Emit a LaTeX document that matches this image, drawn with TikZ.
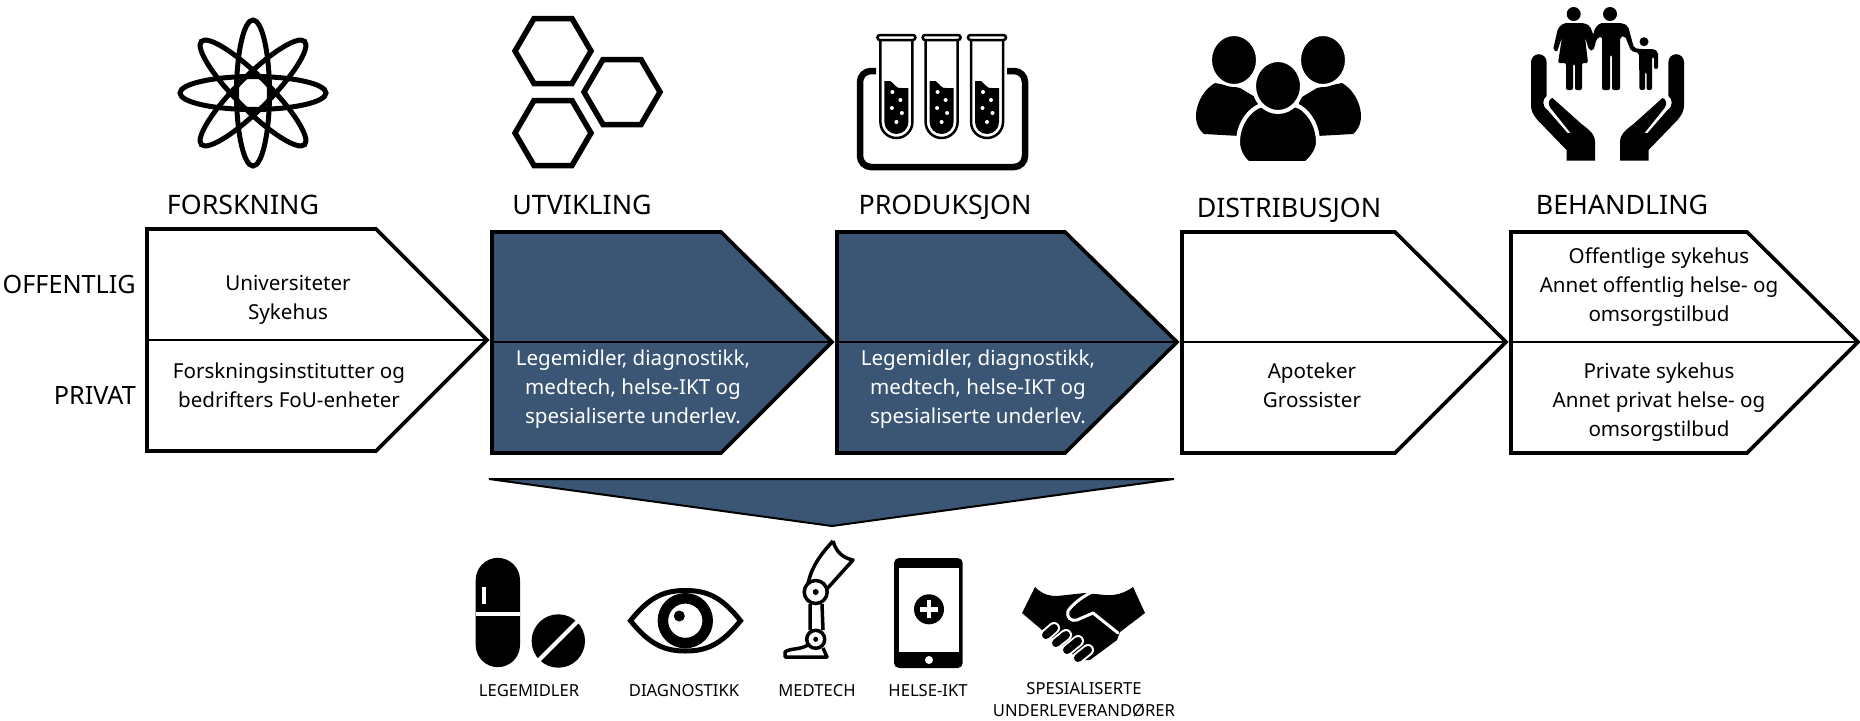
\documentclass[tikz,border=0pt]{standalone}
\usepackage{fontspec}
\setmainfont{Noto Sans}
\usetikzlibrary{arrows.meta, positioning, shapes.geometric}
\definecolor{stepblue}{HTML}{3A5674}

\begin{document}
\begin{tikzpicture}[
  x=1pt, y=-1pt,
  stepbox/.style={draw=black, line width=3.6pt, miter limit=10},
  stepline/.style={draw=black, line width=1.6pt},
  title/.style={font=\fontsize{26.8}{30}\selectfont, inner sep=0pt, anchor=base},
  side/.style={font=\fontsize{25.2}{30}\selectfont, inner sep=0pt, anchor=base east},
  body/.style={font=\fontsize{20.6}{29}\selectfont, align=center, inner sep=0pt},
  small/.style={font=\fontsize{16.6}{22}\selectfont, align=center, inner sep=0pt},
  ring/.style={draw=black, line width=5pt},
  cut/.style={draw=white, line width=3pt}
]
\useasboundingbox (0,0) rectangle (1860,720);

% Chevrons (left to right)
\draw[stepbox] (147,229) -- (376,229) -- (487,340) -- (376,451) -- (147,451) -- cycle;
\draw[stepbox, fill=stepblue] (492,232) -- (721,232) -- (832,342) -- (721,453) -- (492,453) -- cycle;
\draw[stepbox, fill=stepblue] (837,232) -- (1065,232) -- (1177,342) -- (1065,453) -- (837,453) -- cycle;
\draw[stepbox] (1182,232) -- (1395,232) -- (1506,342) -- (1395,453) -- (1182,453) -- cycle;
\draw[stepbox] (1511,232) -- (1747,232) -- (1858,342) -- (1747,453) -- (1511,453) -- cycle;

% Split lines
\draw[stepline] (147,340) -- (487,340);
\draw[stepline] (492,342) -- (832,342);
\draw[stepline] (837,342) -- (1177,342);
\draw[stepline] (1182,342) -- (1506,342);
\draw[stepline] (1511,342) -- (1858,342);

% Funnel under the blue chevrons
\draw[draw=black, line width=2pt, fill=stepblue] (489,479) -- (1174,479) -- (832,526) -- cycle;

% Titles
\node[title] (forskning) at (243,214) {FORSKNING};
\node[title] (utvikling) at (582,214) {UTVIKLING};
\node[title] (produksjon) at (945,214) {PRODUKSJON};
\node[title] (distribusjon) at (1289,217.5) {DISTRIBUSJON};
\node[title] (behandling) at (1622,214) {BEHANDLING};
\node[side] (offentlig) at (136,293) {OFFENTLIG};
\node[side] (privat) at (136,404) {PRIVAT};

% Chevron texts
\node[body] (forsk1) at (288,299.5) {Universiteter\\Sykehus};
\node[body] (forsk2) at (289,385.5) {Forskningsinstitutter og\\bedrifters FoU-enheter};
\node[body, text=white] (utv2) at (633,389) {Legemidler, diagnostikk,\\medtech, helse-IKT og\\spesialiserte underlev.};
\node[body, text=white] (prod2) at (978,389) {Legemidler, diagnostikk,\\medtech, helse-IKT og\\spesialiserte underlev.};
\node[body] (dist2) at (1312,385) {Apoteker\\Grossister};
\node[body] (beh1) at (1659,287) {Offentlige sykehus\\Annet offentlig helse- og\\omsorgstilbud};
\node[body] (beh2) at (1659,402) {Private sykehus\\Annet privat helse- og\\omsorgstilbud};

% Bottom labels
\node[small] (legemidler) at (529,691) {LEGEMIDLER};
\node[small] (diagnostikk) at (684,691) {DIAGNOSTIKK};
\node[small] (medtech) at (817,691) {MEDTECH};
\node[small] (helseikt) at (928,691) {HELSE-IKT};
\node[small] (spesial) at (1084,700) {SPESIALISERTE\\UNDERLEVERANDØRER};

% Atom
\foreach \a in {0,45,90,135}
  \draw[ring, rotate around={\a:(253,93)}] (253,93) ellipse (73 and 16.5);

% Hexagons
\foreach \cx/\cy in {553/51, 622/92, 553/133}
  \draw[ring, line width=5.5pt] (\cx-38,\cy) -- (\cx-19,\cy-32.5) -- (\cx+19,\cy-32.5)
    -- (\cx+38,\cy) -- (\cx+19,\cy+32.5) -- (\cx-19,\cy+32.5) -- cycle;

% Test tubes in tray
\draw[draw=black, line width=6.5pt, rounded corners=11pt] (876,71) -- (860,71) -- (860,167) -- (1025,167) -- (1025,71) -- (1007,71);
\foreach \x in {896.4,941.6,987} {
  \draw[draw=black, line width=2.5pt] (\x-16,40) -- (\x-16,122) arc (180:0:16) -- (\x+16,40);
  \draw[draw=black, line width=2.5pt, rounded corners=2.5pt] (\x-19,35) rectangle (\x+19,40);
  \fill (\x-12,81) -- (\x-6,81) .. controls (\x-2,84) and (\x,89) .. (\x+5,88) -- (\x+12,88) -- (\x+12,122) arc (0:180:12) -- cycle;
  \foreach \dx/\dy in {-4/92, 4/100, -4.5/108, 5.5/113, 0/122}
    \fill[white] (\x+\dx,\dy) circle (2);
}

% Group of people
\fill (1215,83) .. controls (1200,92) and (1196,108) .. (1196,116) .. controls (1196,125) and (1200,131) .. (1204,134) -- (1240,136) -- (1260,100) -- (1240,88) -- cycle;
\fill (1342,83) .. controls (1357,92) and (1361,108) .. (1361,116) .. controls (1361,125) and (1357,131) .. (1353,134) -- (1317,136) -- (1297,100) -- (1317,88) -- cycle;
\draw[white, line width=3pt, fill=black] (1234,60) ellipse (23.5 and 25.5);
\draw[white, line width=3pt, fill=black] (1323,60) ellipse (23.5 and 25.5);
\draw[white, line width=4pt, fill=black] (1257,107) .. controls (1245,114) and (1238,128) .. (1238,142) .. controls (1238,150) and (1242,158) .. (1248,163) -- (1306,163) .. controls (1312,158) and (1318,150) .. (1318,142) .. controls (1318,128) and (1311,114) .. (1300,107) -- (1278,100) -- cycle;
\draw[white, line width=4pt, fill=black] (1278,86) ellipse (24 and 26);

% Family in hands
\fill (1573.7,14) circle (7);
\fill (1610,14) circle (7);
\fill (1644,41.7) circle (4.5);
\fill[rounded corners=2pt] (1564,23) -- (1584,23) -- (1590,26) -- (1596,42) -- (1593,51) -- (1589,50) -- (1585,37) -- (1588,63) -- (1582,63) -- (1582,90) -- (1575,90) -- (1575,64) -- (1573,64) -- (1573,90) -- (1566,90) -- (1566,63) -- (1558,63) -- (1562,37) -- (1557,52) -- (1553,50) -- (1558,28) -- cycle;
\fill[rounded corners=2pt] (1600,23) -- (1622,23) -- (1628,26) -- (1634,48) -- (1640,49) -- (1654,49) -- (1658,52) -- (1658,69) -- (1654,69) -- (1654,57) -- (1652,57) -- (1652,90) -- (1646.5,90) -- (1646.5,72) -- (1645,72) -- (1645,90) -- (1639.5,90) -- (1639,53) -- (1631,51) -- (1625,36) -- (1620,37) -- (1620,90) -- (1612,90) -- (1612,55) -- (1610,55) -- (1610,90) -- (1602,90) -- (1602,37) -- (1598,37) -- (1592,50) -- (1590,46) -- (1595,28) -- cycle;
\foreach \s in {1,-1} {
  \begin{scope}[shift={(1607.5,0)}, xscale=\s]
    \fill (-76.5,62) arc (180:360:7.8) -- (-60.9,96) .. controls (-65,99) and (-66,106) .. (-60,110) -- (-40,133) -- (-37,133) -- (-57,108) .. controls (-60,104) and (-59,99) .. (-55,98) -- (-26,124) .. controls (-15,132) and (-12.5,136) .. (-12.5,142) -- (-12.5,160.7) -- (-41,160.7) -- (-41,150) -- (-70,120) .. controls (-74,115) and (-76.5,112) .. (-76.5,104) -- cycle;
  \end{scope}
}

% Capsule and pill
\fill (475.7,580) arc (180:360:22.15) -- (520,645) arc (0:180:22.15) -- cycle;
\fill[white] (475.7,611.5) rectangle (520,615.5);
\fill[white] (482,587) rectangle (486,604);
\fill (558.3,641) circle (26.7);
\draw[cut, line width=4pt] (538,661) -- (578,621);

% Eye
\draw[ring] (630.5,620.7) .. controls (650,596) and (665,590.5) .. (685.5,590.5) .. controls (706,590.5) and (721,596) .. (740.5,620.7) .. controls (721,645) and (706,651) .. (685.5,651) .. controls (665,651) and (650,645) .. (630.5,620.7) -- cycle;
\draw[draw=black, line width=10.5pt] (685.3,620.7) circle (22.4);
\fill (679.3,616) circle (5.5);

% Prosthetic leg
\draw[draw=black, line width=3.5pt, line join=round] (833,541) .. controls (820,555) and (811,568) .. (808,584) (833,541) .. controls (836,552) and (843,558) .. (853,560) -- (826,590);
\draw[draw=black, line width=3.5pt] (810,604) -- (810,630) (822,604) -- (823,630);
\draw[draw=black, line width=3.5pt, fill=white] (815.7,592) circle (11.5);
\fill (815.7,592) circle (3);
\draw[draw=black, line width=3.5pt, fill=white] (815.7,639.3) circle (9);
\fill (815.7,639.3) circle (2.5);
\draw[draw=black, line width=3.5pt, line join=round] (808,645) .. controls (800,650) and (790,648) .. (785,652) -- (785,657) -- (827,657) -- (823,648);

% Tablet
\fill[rounded corners=5pt] (894,558) rectangle (962.7,668);
\fill[white] (899,568) rectangle (958.7,652);
\fill[white] (929,660) circle (4);
\fill (929,609.3) circle (15);
\fill[white] (920,607) rectangle (938,611.6);
\fill[white] (926.7,600.3) rectangle (931.3,618.3);

% Handshake
\fill[line join=round] (1035,587) .. controls (1043,595) and (1050,596) .. (1057,596) -- (1085,593) -- (1105,595) .. controls (1115,596) and (1125,593) .. (1133,587) -- (1145,613) -- (1120,632) -- (1117,640) -- (1090,660) -- (1080,660) -- (1042,630) -- (1022,613) -- cycle;
\draw[cut, line cap=round, line join=round] (1092,592) .. controls (1080,598) and (1072,605) .. (1068,611) .. controls (1066,617) and (1071,622) .. (1077,620) -- (1093,613) -- (1118,633);
\foreach \ax/\ay/\bx/\by in {1046/635/1054/628, 1056/643/1066/635, 1067/650/1078/641, 1078/658/1088/650} {
  \draw[white, line width=12pt, line cap=round] (\ax,\ay) -- (\bx,\by);
  \draw[black, line width=8pt, line cap=round] (\ax,\ay) -- (\bx,\by);
}

\end{tikzpicture}
\end{document}
